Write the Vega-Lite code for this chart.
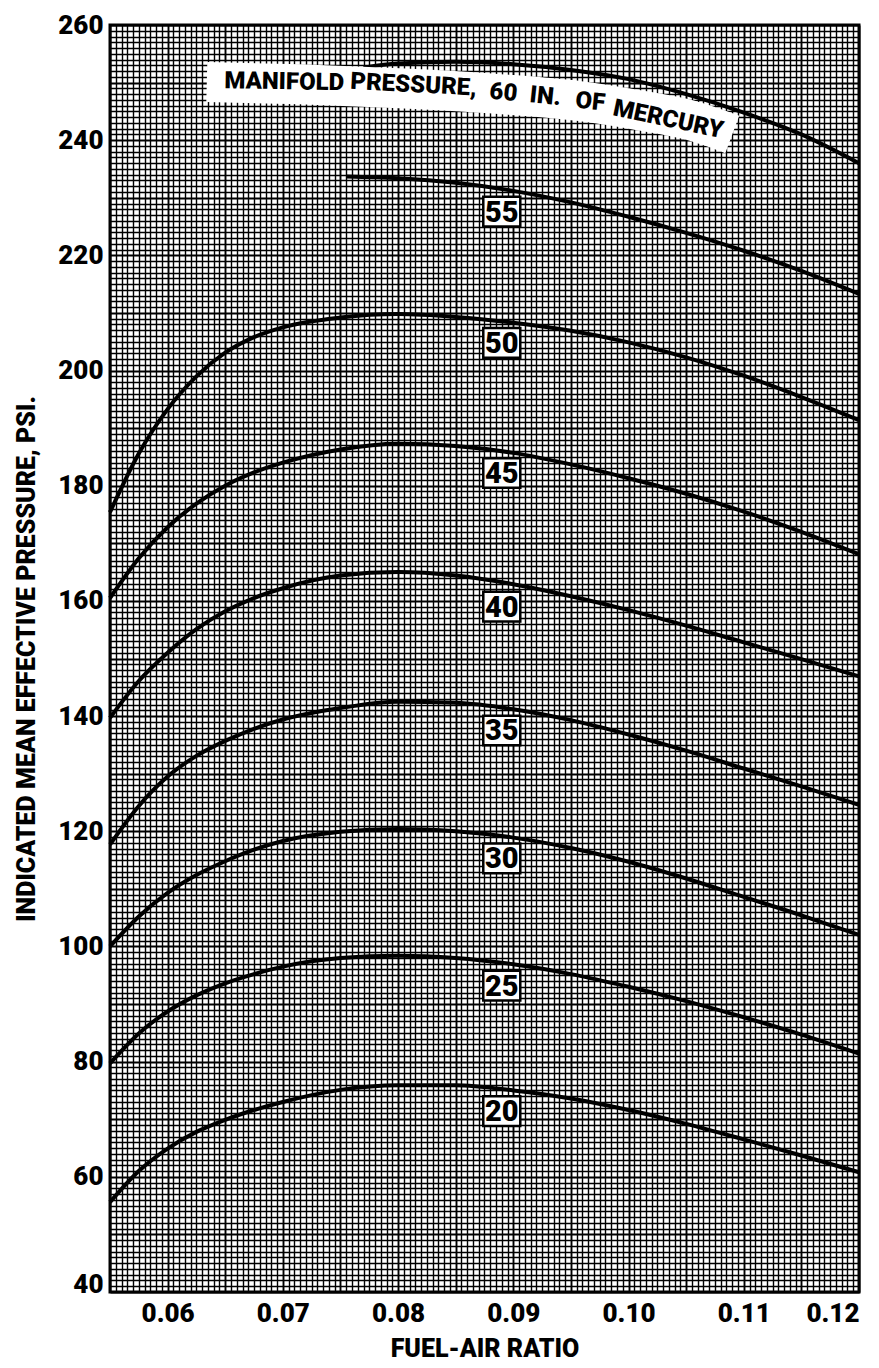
{
  "$schema": "https://vega.github.io/schema/vega-lite/v6.json",
  "width": 749,
  "height": 1267,
  "autosize": "none",
  "padding": {"left": 110, "top": 25, "right": 20, "bottom": 76},
  "background": "white",
  "config": {
    "view": {"stroke": "black", "strokeWidth": 3},
    "font": "Roboto"
  },
  "datasets": {
    "curves": [
      {"curve": "20", "x": 0.055, "y": 55.6}, {"curve": "20", "x": 0.0575, "y": 61.0}, {"curve": "20", "x": 0.06, "y": 64.9}, {"curve": "20", "x": 0.0625, "y": 67.8}, {"curve": "20", "x": 0.065, "y": 69.9}, {"curve": "20", "x": 0.0675, "y": 71.6}, {"curve": "20", "x": 0.07, "y": 73.0}, {"curve": "20", "x": 0.075, "y": 75.1}, {"curve": "20", "x": 0.08, "y": 75.9}, {"curve": "20", "x": 0.085, "y": 75.9}, {"curve": "20", "x": 0.09, "y": 75.0}, {"curve": "20", "x": 0.095, "y": 73.6}, {"curve": "20", "x": 0.1, "y": 71.6}, {"curve": "20", "x": 0.105, "y": 69.2}, {"curve": "20", "x": 0.11, "y": 66.5}, {"curve": "20", "x": 0.115, "y": 63.7}, {"curve": "20", "x": 0.12, "y": 60.8},
      {"curve": "25", "x": 0.055, "y": 79.7}, {"curve": "25", "x": 0.0575, "y": 84.9}, {"curve": "25", "x": 0.06, "y": 88.7}, {"curve": "25", "x": 0.0625, "y": 91.5}, {"curve": "25", "x": 0.065, "y": 93.6}, {"curve": "25", "x": 0.0675, "y": 95.2}, {"curve": "25", "x": 0.07, "y": 96.5}, {"curve": "25", "x": 0.075, "y": 98.0}, {"curve": "25", "x": 0.08, "y": 98.4}, {"curve": "25", "x": 0.085, "y": 98.0}, {"curve": "25", "x": 0.09, "y": 96.9}, {"curve": "25", "x": 0.095, "y": 95.2}, {"curve": "25", "x": 0.1, "y": 93.0}, {"curve": "25", "x": 0.105, "y": 90.5}, {"curve": "25", "x": 0.11, "y": 87.7}, {"curve": "25", "x": 0.115, "y": 84.7}, {"curve": "25", "x": 0.12, "y": 81.4},
      {"curve": "30", "x": 0.055, "y": 100.0}, {"curve": "30", "x": 0.0575, "y": 105.2}, {"curve": "30", "x": 0.06, "y": 109.3}, {"curve": "30", "x": 0.0625, "y": 112.4}, {"curve": "30", "x": 0.065, "y": 114.8}, {"curve": "30", "x": 0.0675, "y": 116.8}, {"curve": "30", "x": 0.07, "y": 118.3}, {"curve": "30", "x": 0.075, "y": 119.9}, {"curve": "30", "x": 0.08, "y": 120.4}, {"curve": "30", "x": 0.085, "y": 120.0}, {"curve": "30", "x": 0.09, "y": 118.9}, {"curve": "30", "x": 0.095, "y": 117.1}, {"curve": "30", "x": 0.1, "y": 114.7}, {"curve": "30", "x": 0.105, "y": 111.8}, {"curve": "30", "x": 0.11, "y": 108.6}, {"curve": "30", "x": 0.115, "y": 105.4}, {"curve": "30", "x": 0.12, "y": 102.0},
      {"curve": "35", "x": 0.055, "y": 117.7}, {"curve": "35", "x": 0.0575, "y": 124.4}, {"curve": "35", "x": 0.06, "y": 129.5}, {"curve": "35", "x": 0.0625, "y": 133.1}, {"curve": "35", "x": 0.065, "y": 135.7}, {"curve": "35", "x": 0.0675, "y": 137.8}, {"curve": "35", "x": 0.07, "y": 139.4}, {"curve": "35", "x": 0.075, "y": 141.4}, {"curve": "35", "x": 0.08, "y": 142.5}, {"curve": "35", "x": 0.085, "y": 142.3}, {"curve": "35", "x": 0.09, "y": 141.2}, {"curve": "35", "x": 0.095, "y": 139.3}, {"curve": "35", "x": 0.1, "y": 136.8}, {"curve": "35", "x": 0.105, "y": 134.0}, {"curve": "35", "x": 0.11, "y": 130.9}, {"curve": "35", "x": 0.115, "y": 127.8}, {"curve": "35", "x": 0.12, "y": 124.6},
      {"curve": "40", "x": 0.055, "y": 139.7}, {"curve": "40", "x": 0.0575, "y": 146.1}, {"curve": "40", "x": 0.06, "y": 151.0}, {"curve": "40", "x": 0.0625, "y": 155.1}, {"curve": "40", "x": 0.065, "y": 158.2}, {"curve": "40", "x": 0.0675, "y": 160.5}, {"curve": "40", "x": 0.07, "y": 162.2}, {"curve": "40", "x": 0.075, "y": 164.4}, {"curve": "40", "x": 0.08, "y": 165.0}, {"curve": "40", "x": 0.085, "y": 164.4}, {"curve": "40", "x": 0.09, "y": 162.9}, {"curve": "40", "x": 0.095, "y": 160.8}, {"curve": "40", "x": 0.1, "y": 158.4}, {"curve": "40", "x": 0.105, "y": 155.7}, {"curve": "40", "x": 0.11, "y": 152.8}, {"curve": "40", "x": 0.115, "y": 149.9}, {"curve": "40", "x": 0.12, "y": 146.9},
      {"curve": "45", "x": 0.055, "y": 160.5}, {"curve": "45", "x": 0.0575, "y": 167.4}, {"curve": "45", "x": 0.06, "y": 172.8}, {"curve": "45", "x": 0.0625, "y": 176.9}, {"curve": "45", "x": 0.065, "y": 180.0}, {"curve": "45", "x": 0.0675, "y": 182.3}, {"curve": "45", "x": 0.07, "y": 184.0}, {"curve": "45", "x": 0.075, "y": 186.3}, {"curve": "45", "x": 0.08, "y": 187.3}, {"curve": "45", "x": 0.085, "y": 186.9}, {"curve": "45", "x": 0.09, "y": 185.7}, {"curve": "45", "x": 0.095, "y": 183.7}, {"curve": "45", "x": 0.1, "y": 181.3}, {"curve": "45", "x": 0.105, "y": 178.6}, {"curve": "45", "x": 0.11, "y": 175.5}, {"curve": "45", "x": 0.115, "y": 172.0}, {"curve": "45", "x": 0.12, "y": 168.1},
      {"curve": "50", "x": 0.055, "y": 175.4}, {"curve": "50", "x": 0.0575, "y": 185.6}, {"curve": "50", "x": 0.06, "y": 193.3}, {"curve": "50", "x": 0.0625, "y": 199.0}, {"curve": "50", "x": 0.065, "y": 203.1}, {"curve": "50", "x": 0.0675, "y": 205.8}, {"curve": "50", "x": 0.07, "y": 207.5}, {"curve": "50", "x": 0.075, "y": 209.2}, {"curve": "50", "x": 0.08, "y": 209.8}, {"curve": "50", "x": 0.085, "y": 209.3}, {"curve": "50", "x": 0.09, "y": 208.3}, {"curve": "50", "x": 0.095, "y": 206.9}, {"curve": "50", "x": 0.1, "y": 204.9}, {"curve": "50", "x": 0.105, "y": 202.3}, {"curve": "50", "x": 0.11, "y": 199.1}, {"curve": "50", "x": 0.115, "y": 195.4}, {"curve": "50", "x": 0.12, "y": 191.4},
      {"curve": "55", "x": 0.0755, "y": 233.7}, {"curve": "55", "x": 0.08, "y": 233.4}, {"curve": "55", "x": 0.085, "y": 232.6}, {"curve": "55", "x": 0.09, "y": 231.2}, {"curve": "55", "x": 0.095, "y": 229.2}, {"curve": "55", "x": 0.1, "y": 226.7}, {"curve": "55", "x": 0.105, "y": 223.9}, {"curve": "55", "x": 0.11, "y": 220.8}, {"curve": "55", "x": 0.115, "y": 217.3}, {"curve": "55", "x": 0.12, "y": 213.3},
      {"curve": "60", "x": 0.077, "y": 252.6}, {"curve": "60", "x": 0.08, "y": 253.3}, {"curve": "60", "x": 0.085, "y": 253.6}, {"curve": "60", "x": 0.09, "y": 253.2}, {"curve": "60", "x": 0.095, "y": 252.2}, {"curve": "60", "x": 0.1, "y": 250.6}, {"curve": "60", "x": 0.105, "y": 248.0}, {"curve": "60", "x": 0.11, "y": 244.8}, {"curve": "60", "x": 0.115, "y": 241.0}, {"curve": "60", "x": 0.12, "y": 236.0}
    ],
    "labels": [
      {"label": "55", "x": 0.089, "y": 227.6},
      {"label": "50", "x": 0.089, "y": 204.8},
      {"label": "45", "x": 0.089, "y": 182.2},
      {"label": "40", "x": 0.089, "y": 159.0},
      {"label": "35", "x": 0.089, "y": 137.5},
      {"label": "30", "x": 0.089, "y": 115.3},
      {"label": "25", "x": 0.089, "y": 93.2},
      {"label": "20", "x": 0.089, "y": 71.4}
    ],
    "banner": [
      {"x": 0.0634, "y": 250.1}, {"x": 0.0715, "y": 249.7}, {"x": 0.0801, "y": 249.0}, {"x": 0.0888, "y": 248.0}, {"x": 0.0957, "y": 246.8}, {"x": 0.1009, "y": 245.2}, {"x": 0.1053, "y": 243.5}, {"x": 0.109, "y": 241.0}
    ],
    "words1": [{"text": "MANIFOLD", "x": 0.07012, "y": 250.07}],
    "words2": [{"text": "PRESSURE,", "x": 0.08134, "y": 249.55}],
    "words3": [{"text": "60", "x": 0.08914, "y": 248.21}, {"text": "IN.", "x": 0.09278, "y": 247.55}, {"text": "OF", "x": 0.09668, "y": 246.6}],
    "words4": [{"text": "MERCURY", "x": 0.10344, "y": 243.56}]
  },
  "encoding": {
    "x": {
      "field": "x", "type": "quantitative",
      "scale": {"domain": [0.055, 0.12], "nice": false, "zero": false},
      "axis": {
        "orient": "bottom", "tickCount": 130, "grid": true, "gridColor": "black",
        "gridWidth": {"condition": {"test": "round(datum.value*2000) % 10 == 0", "value": 1.9}, "value": 1.4},
        "ticks": false, "domain": false, "labelOverlap": false, "labelBound": false,
        "labelExpr": "round(datum.value*2000) % 20 == 0 ? format(datum.value, '.2f') : ''",
        "labelFont": "Roboto", "labelFontSize": 26, "labelFontWeight": 900, "labelColor": "black", "labelPadding": 8,
        "title": "FUEL-AIR RATIO", "titleFont": "Roboto", "titleFontSize": 25, "titleFontWeight": 900, "titleColor": "black", "titlePadding": 10
      }
    },
    "y": {
      "field": "y", "type": "quantitative",
      "scale": {"domain": [40, 260], "nice": false, "zero": false},
      "axis": {
        "orient": "left", "tickCount": 220, "grid": true, "gridColor": "black",
        "gridWidth": {"condition": {"test": "round(datum.value) % 10 == 0", "value": 1.9}, "value": 1.4},
        "ticks": false, "domain": false, "labelOverlap": false, "labelBound": false,
        "labelExpr": "round(datum.value) % 20 == 0 ? format(datum.value, 'd') : ''",
        "labelBaseline": {"condition": {"test": "datum.value == 40", "value": "alphabetic"}, "value": "middle"},
        "labelFont": "Roboto", "labelFontSize": 26, "labelFontWeight": 900, "labelColor": "black", "labelPadding": 7,
        "title": "INDICATED MEAN EFFECTIVE PRESSURE, PSI.", "titleFont": "Roboto", "titleFontSize": 25, "titleFontWeight": 900, "titleColor": "black", "titlePadding": 18
      }
    }
  },
  "layer": [
    {
      "data": {"name": "curves"},
      "mark": {"type": "line", "color": "black", "strokeWidth": 4, "interpolate": "monotone"},
      "encoding": {"detail": {"field": "curve", "type": "nominal"}}
    },
    {
      "data": {"name": "banner"},
      "mark": {"type": "line", "color": "white", "strokeWidth": 40, "strokeCap": "butt", "interpolate": "monotone"},
      "encoding": {}
    },
    {
      "data": {"name": "words1"},
      "mark": {"type": "text", "font": "Roboto", "fontSize": 24, "fontWeight": 900, "color": "black", "angle": 1, "align": "center", "baseline": "middle"},
      "encoding": {"text": {"field": "text"}}
    },
    {
      "data": {"name": "words2"},
      "mark": {"type": "text", "font": "Roboto", "fontSize": 24, "fontWeight": 900, "color": "black", "angle": 3, "align": "center", "baseline": "middle"},
      "encoding": {"text": {"field": "text"}}
    },
    {
      "data": {"name": "words3"},
      "mark": {"type": "text", "font": "Roboto", "fontSize": 24, "fontWeight": 900, "color": "black", "angle": 6, "align": "center", "baseline": "middle"},
      "encoding": {"text": {"field": "text"}}
    },
    {
      "data": {"name": "words4"},
      "mark": {"type": "text", "font": "Roboto", "fontSize": 24, "fontWeight": 900, "color": "black", "angle": 12, "align": "center", "baseline": "middle"},
      "encoding": {"text": {"field": "text"}}
    },
    {
      "data": {"name": "labels"},
      "mark": {"type": "point", "shape": "M-1,-0.8L1,-0.8L1,0.8L-1,0.8Z", "size": 1369, "filled": true, "fill": "white", "stroke": "black", "strokeWidth": 2.5, "opacity": 1, "fillOpacity": 1, "strokeOpacity": 1}
    },
    {
      "data": {"name": "labels"},
      "mark": {"type": "text", "font": "Roboto", "fontSize": 29, "fontWeight": 900, "color": "black", "align": "center", "baseline": "middle", "dy": 1},
      "encoding": {"text": {"field": "label"}}
    }
  ]
}
